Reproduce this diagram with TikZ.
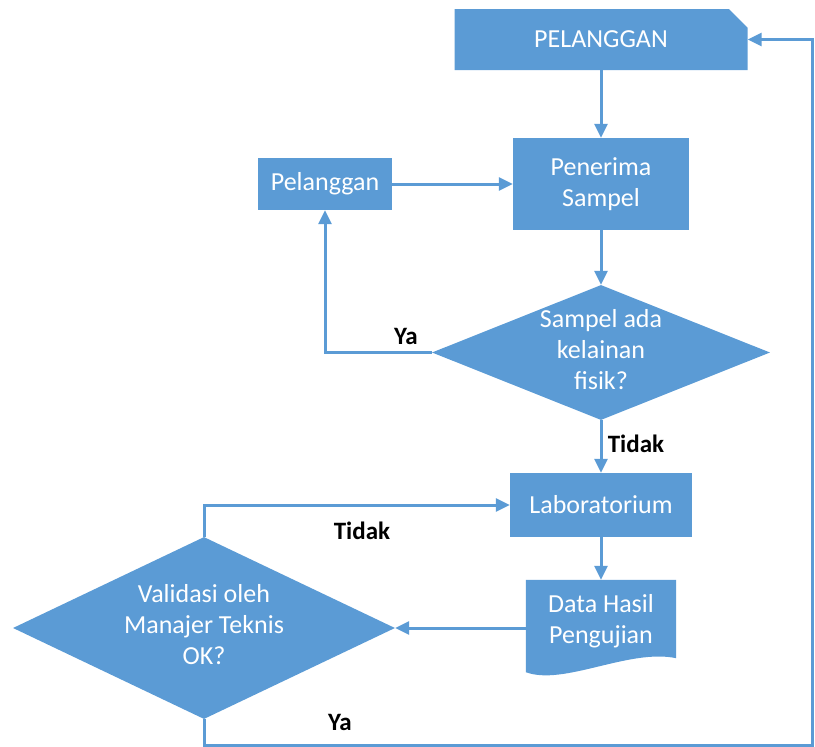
\documentclass[tikz,border=0pt]{standalone}
\usepackage{fontspec}
\setmainfont{Carlito}
\usetikzlibrary{arrows.meta,shapes.geometric,shapes.misc,calc,backgrounds}
\definecolor{flowblue}{RGB}{91,155,213}
\newcommand\dtext[1]{\makebox[0pt]{\smash{\raisebox{-6pt}{\begin{tabular}{@{}c@{}}#1\end{tabular}}}}}

\begin{document}
\begin{tikzpicture}[x=1pt,y=-1pt,
  box/.style={rectangle,fill=flowblue,text=white,align=center,inner sep=0pt,
    font=\fontsize{26}{31}\selectfont},
  dec/.style={diamond,fill=flowblue,text=white,inner sep=0pt,
    font=\fontsize{26}{31}\selectfont},
  lbl/.style={font=\fontsize{25}{30}\selectfont\bfseries,inner sep=0pt},
  arr/.style={-{Triangle[length=14pt,width=13pt]},draw=flowblue,line width=3pt}]
  \useasboundingbox (0,0) rectangle (815,747);

  % Boxes
  \node[box,chamfered rectangle,chamfered rectangle corners=north east,
    chamfered rectangle xsep=11pt,chamfered rectangle ysep=10pt,
    minimum width=293pt,minimum height=61pt] (top) at (601,39.5) {PELANGGAN};
  \node[box,minimum width=176pt,minimum height=92pt] (pen) at (601,184) {Penerima\\Sampel};
  \node[box,minimum width=134pt,minimum height=52pt] (pel) at (325,184) {Pelanggan};
  \node[box,minimum width=182pt,minimum height=64pt] (lab) at (601,505) {Laboratorium};
  \node[box,fill=none,minimum width=150pt,minimum height=82pt] (hasil) at (601,621) {Data Hasil\\Pengujian};
  \begin{scope}[on background layer]
    \fill[flowblue] (hasil.north west) -- (hasil.north east) -- ($(hasil.south east)+(0,-4)$)
      .. controls ($(hasil.south east)+(-47,-14)$) and ($(hasil.south west)+(38,24)$) ..
      ($(hasil.south west)+(0,10)$) -- cycle;
  \end{scope}

  % Decisions
  \node[dec,minimum width=338pt,minimum height=135pt] (cek) at (601,352.5) {\dtext{Sampel ada\\kelainan\\fisik?}};
  \node[dec,minimum width=382pt,minimum height=182pt] (valid) at (204,628) {\dtext{Validasi oleh\\Manajer Teknis\\OK?}};

  % Arrows
  \draw[arr] (top.south) -- (pen.north);
  \draw[arr] (pel.east) -- (pen.west);
  \draw[arr] (pen.south) -- (cek.north);
  \draw[arr] (cek.west) -| (pel.south);
  \draw[arr] (cek.south) -- (lab.north);
  \draw[arr] (lab.south) -- (hasil.north);
  \draw[arr] (hasil.west |- valid.east) -- (valid.east);
  \draw[arr] (valid.north) |- (lab.west);
  \coordinate (sudut) at (812,745);
  \draw[arr] (valid.south) |- (sudut) |- (top.east);

  % Labels
  \node[lbl] (ya1) at (406,336) {Ya};
  \node[lbl] (tidak1) at (636,444) {Tidak};
  \node[lbl] (tidak2) at (362,531) {Tidak};
  \node[lbl] (ya2) at (340,722) {Ya};

\end{tikzpicture}
\end{document}
